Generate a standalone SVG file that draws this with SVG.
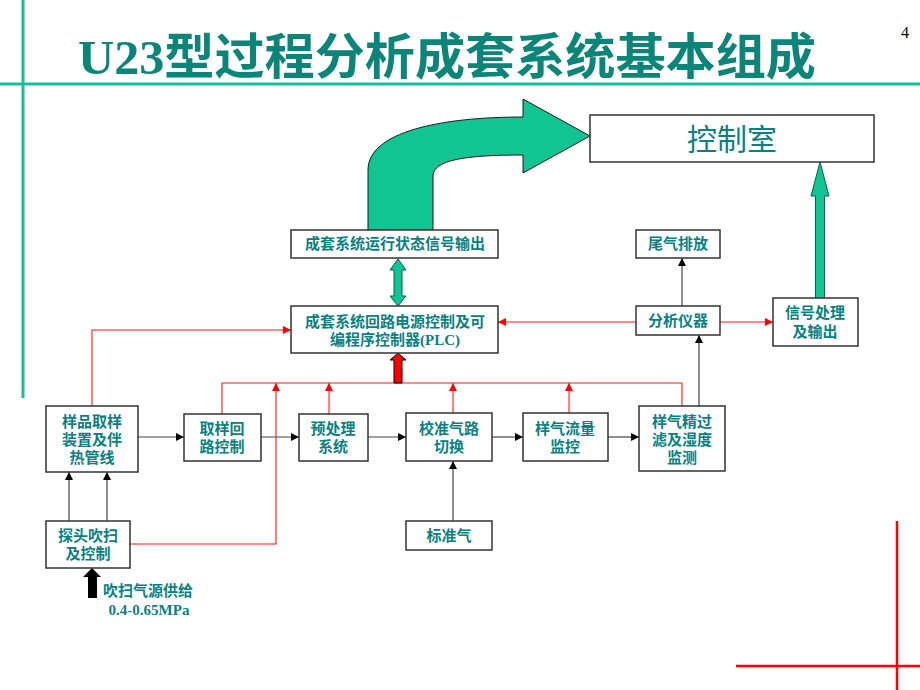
<svg xmlns="http://www.w3.org/2000/svg" width="920" height="690" viewBox="0 0 920 690">
<defs>
<style>
.box{fill:#fff;stroke:#333;stroke-width:1.5}
.t{font-family:"Liberation Serif","Noto Sans CJK SC",serif;fill:#0a8080;font-size:15px;font-weight:bold;text-anchor:middle}
.blk{fill:none;stroke:#444;stroke-width:1.2}
.red{fill:none;stroke:#ff1a1a;stroke-width:1.1}
.frame{stroke:#14c195;stroke-width:3;fill:none}
</style>
<marker id="ab" viewBox="0 0 10 10" refX="10" refY="5" markerWidth="8" markerHeight="8" markerUnits="userSpaceOnUse" orient="auto"><path d="M0,0 L10,5 L0,10 z" fill="#000"/></marker>
<marker id="ar" viewBox="0 0 10 10" refX="10" refY="5" markerWidth="8" markerHeight="8" markerUnits="userSpaceOnUse" orient="auto"><path d="M0,0 L10,5 L0,10 z" fill="#ff0000"/></marker>
</defs>
<rect width="920" height="690" fill="#fff"/>
<g id="frame">
<path class="frame" d="M0,84 H920 M23,0 V398"/>
<path d="M897,521 V690 M736,666 H920" stroke="#ff0000" stroke-width="2.5" fill="none"/>
</g>
<g id="title">
<text x="78" y="74" textLength="738" lengthAdjust="spacingAndGlyphs" style="font-family:'Liberation Serif','Noto Sans CJK SC',serif;font-weight:bold;font-size:49px;fill:#0b8577">U23型过程分析成套系统基本组成</text>
<text x="905" y="38" style="font-family:'Liberation Serif',serif;font-size:16px;fill:#000" text-anchor="middle">4</text>
</g>
<g id="connectors">
<path class="blk" d="M138,437 H184" marker-end="url(#ab)"/>
<path class="blk" d="M261,437 H299" marker-end="url(#ab)"/>
<path class="blk" d="M368,437 H406" marker-end="url(#ab)"/>
<path class="blk" d="M492,437 H523" marker-end="url(#ab)"/>
<path class="blk" d="M608,437 H639" marker-end="url(#ab)"/>
<path class="blk" d="M69,521 V472" marker-end="url(#ab)"/>
<path class="blk" d="M107,521 V472" marker-end="url(#ab)"/>
<path class="blk" d="M453,521 V461" marker-end="url(#ab)"/>
<path class="blk" d="M699,406 V335" marker-end="url(#ab)"/>
<path class="blk" d="M682,306 V258" marker-end="url(#ab)"/>
<path class="red" d="M92,406 V330 H291" marker-end="url(#ar)"/>
<path class="red" d="M636,322 H498" marker-end="url(#ar)"/>
<path class="red" d="M720,322 H773" marker-end="url(#ar)"/>
<path class="red" d="M222,414 V383 H682 V406"/>
<path class="red" d="M329,414 V383" marker-end="url(#ar)"/>
<path class="red" d="M453,413 V383" marker-end="url(#ar)"/>
<path class="red" d="M569,413 V383" marker-end="url(#ar)"/>
<path class="red" d="M130,544 H276 V383" marker-end="url(#ar)"/>
<path d="M394,383 V360 H390 L398,353 L406,360 H402 V383 Z" fill="#ff0000" stroke="#000" stroke-width="1"/>
<path d="M398,259 L406,270 H402 V296 H406 L398,306 L390,296 H394 V270 H390 Z" fill="#10c592" stroke="#0a5e4c" stroke-width="1"/>
<path d="M815.5,298 V196 H811 L820,162 L829,196 H824.5 V298 Z" fill="#10c592" stroke="#0a5e4c" stroke-width="1"/>
<path d="M88,598 V577 H83 L92,568 L101,577 H97 V598 Z" fill="#000"/>
<path d="M368,230 V170 C368,132 440,117 523,117 V99 L590,136 L523,173 V155 C465,155 433,160 433,176 V230 Z" fill="#10c592" stroke="#1a1a1a" stroke-width="1"/>
</g>
<g id="n-control">
<rect class="box" x="590" y="115" width="284" height="47"/>
<text class="t" x="732" y="150" style="font-size:30px;font-weight:normal">控制室</text>
</g>
<g id="n-status">
<rect class="box" x="291" y="230" width="207" height="28"/>
<text class="t" x="395" y="249">成套系统运行状态信号输出</text>
</g>
<g id="n-plc">
<rect class="box" x="291" y="306" width="207" height="47"/>
<text class="t" x="395" y="327">成套系统回路电源控制及可</text>
<text class="t" x="395" y="345">编程序控制器(PLC)</text>
</g>
<g id="n-exhaust">
<rect class="box" x="636" y="230" width="84" height="28"/>
<text class="t" x="678" y="249">尾气排放</text>
</g>
<g id="n-analyzer">
<rect class="box" x="636" y="306" width="84" height="29"/>
<text class="t" x="678" y="326">分析仪器</text>
</g>
<g id="n-signal">
<rect class="box" x="773" y="298" width="85" height="48"/>
<text class="t" x="815" y="318">信号处理</text>
<text class="t" x="815" y="337">及输出</text>
</g>
<g id="n-sampling">
<rect class="box" x="46" y="406" width="92" height="66"/>
<text class="t" x="92" y="427">样品取样</text>
<text class="t" x="92" y="445">装置及伴</text>
<text class="t" x="92" y="463">热管线</text>
</g>
<g id="n-loop">
<rect class="box" x="184" y="414" width="77" height="47"/>
<text class="t" x="222" y="434">取样回</text>
<text class="t" x="222" y="452">路控制</text>
</g>
<g id="n-pre">
<rect class="box" x="299" y="414" width="69" height="47"/>
<text class="t" x="333" y="434">预处理</text>
<text class="t" x="333" y="452">系统</text>
</g>
<g id="n-calib">
<rect class="box" x="406" y="413" width="86" height="48"/>
<text class="t" x="449" y="434">校准气路</text>
<text class="t" x="449" y="452">切换</text>
</g>
<g id="n-flow">
<rect class="box" x="523" y="413" width="85" height="48"/>
<text class="t" x="565" y="434">样气流量</text>
<text class="t" x="565" y="452">监控</text>
</g>
<g id="n-filter">
<rect class="box" x="639" y="406" width="86" height="65"/>
<text class="t" x="682" y="427">样气精过</text>
<text class="t" x="682" y="445">滤及湿度</text>
<text class="t" x="682" y="463">监测</text>
</g>
<g id="n-std">
<rect class="box" x="406" y="521" width="86" height="29"/>
<text class="t" x="449" y="541">标准气</text>
</g>
<g id="n-purge">
<rect class="box" x="46" y="521" width="84" height="47"/>
<text class="t" x="88" y="541">探头吹扫</text>
<text class="t" x="88" y="559">及控制</text>
</g>
<g id="purge-label">
<text class="t" x="148" y="596">吹扫气源供给</text>
<text class="t" x="149" y="615">0.4-0.65MPa</text>
</g>
</svg>
